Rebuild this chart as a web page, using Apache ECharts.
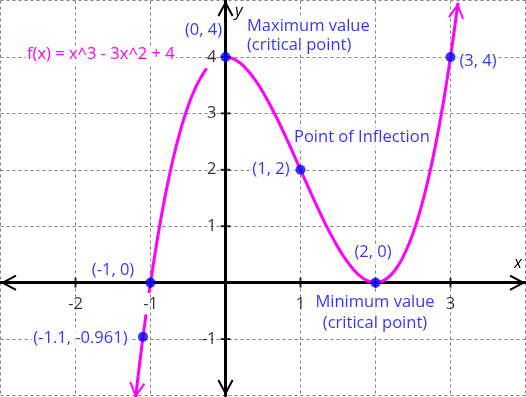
<!DOCTYPE html>
<html><head><meta charset="utf-8">
<script src="https://cdn.jsdelivr.net/npm/echarts@6/dist/echarts.min.js"></script>
<style>html,body{margin:0;padding:0;background:#fff}#c{width:526px;height:397px}</style>
</head><body><div id="c"></div>
<script>
// ---- data ----
const xTicks = [-2, -1, 1, 2, 3];
const yTicks = [-1, 1, 2, 3, 4];
const xTickLabels = [-2, -1, 1, 3];
const yTickLabels = [-1, 1, 2, 3, 4];

// sampled points of the plotted curve (null = gap where the picture shows none)
const curveX = [-1.2, -1.15, -1.1, -1.06, null,
  -1.02, -1.0, -0.9, -0.8, -0.7, -0.6, -0.5, -0.4, -0.3, -0.25, null,
  0, 0.1, 0.2, 0.3, 0.4, 0.5, 0.6, 0.7, 0.8, 0.9, 1.0, 1.1, 1.2, 1.3, 1.4, 1.5, 1.6, 1.7, 1.8, 1.9,
  2.0, 2.1, 2.2, 2.3, 2.4, 2.5, 2.6, 2.7, 2.8, 2.9, 3.0, 3.1];
const curveY = [-2.048, -1.488, -0.961, -0.562, null,
  -0.182, 0, 0.841, 1.568, 2.187, 2.704, 3.125, 3.456, 3.703, 3.797, null,
  4, 3.971, 3.888, 3.757, 3.584, 3.375, 3.136, 2.873, 2.592, 2.299, 2, 1.701, 1.408, 1.127, 0.864, 0.625, 0.416, 0.243, 0.112, 0.029,
  0, 0.031, 0.128, 0.297, 0.544, 0.875, 1.296, 1.813, 2.432, 3.159, 4, 4.961];

const pointX = [0, 1, 2, 3, -1, -1.1];
const pointY = [4, 2, 0, 4, 0, -0.961];
const pointLabels = ['(0, 4)', '(1, 2)', '(2, 0)', '(3, 4)', '(-1, 0)', '(-1.1, -0.961)'];

const noteX = [0, 1, 2];
const noteY = [4, 2, 0];
const noteLabels = ['Maximum value\n(critical point)', 'Point of Inflection', 'Minimum value\n(critical point)'];

const functionLabel = 'f(x) = x^3 - 3x^2 + 4';
const xName = 'x', yName = 'y';

// ---- styling ----
const FONT = "'Open Sans', sans-serif";
const FS = 16.5;
const BLUE = '#0000ff', MAGENTA = '#ff00ff';
const CHEVRON = 'path://M0,-16L0.01,-16L0,-15.99Z M0,0L8,15L6.24,15.94L0,4.26L-6.24,15.94L-8,15Z';

const pointLabelStyle = [
  {position: [-17, -22], align: 'center'},
  {position: [-4, 5], align: 'right'},
  {position: [2.5, -25], align: 'center'},
  {position: [12, 9.5], align: 'left'},
  {position: [-32.5, -7.7], align: 'center'},
  {position: [-8.5, 6], align: 'right'}
];
const noteLabelStyle = [
  {position: [20, -21], align: 'left', lineHeight: 19},
  {position: [-8, -32], align: 'left', lineHeight: 20},
  {position: [0, 31], align: 'center', lineHeight: 21}
];

const curveData = curveX.map((x, i) => {
  if (x == null) return ['-', '-'];
  const item = {value: [x, curveY[i]]};
  if (i === 0) { item.symbol = CHEVRON; item.symbolSize = [16, 32]; item.symbolRotate = 173.4; }
  if (i === curveX.length - 1) { item.symbol = CHEVRON; item.symbolSize = [16, 32]; item.symbolRotate = -7.4; }
  return item;
});

const splitLine = {show: true, lineStyle: {color: '#808080', width: 1, type: [3, 3]}};
const axisLineCfg = {onZero: true, lineStyle: {color: '#000', width: 3}, symbol: [CHEVRON, CHEVRON], symbolSize: [16, 32]};
const tickLabelText = {color: '#000', fontSize: FS, fontFamily: FONT, verticalAlign: 'middle'};

const chart = echarts.init(document.getElementById('c'), null, {renderer: 'canvas'});
chart.setOption({
  animation: false,
  backgroundColor: '#fff',
  grid: {left: 0.5, right: 0.5, top: 0.5, bottom: 1.5, containLabel: false, outerBoundsMode: 'none'},
  xAxis: {
    type: 'value', min: -3, max: 4, interval: 1,
    axisLine: axisLineCfg, axisTick: {show: false}, splitLine: splitLine,
    axisLabel: {show: false}
  },
  yAxis: {
    type: 'value', min: -2, max: 5, interval: 1,
    axisLine: axisLineCfg, axisTick: {show: false}, splitLine: splitLine,
    axisLabel: {show: false}
  },
  series: [
    {
      type: 'line', data: curveData, smooth: 0.3, connectNulls: false, clip: false,
      symbol: 'none', showSymbol: true, silent: true, z: 2,
      lineStyle: {color: MAGENTA, width: 3},
      itemStyle: {color: MAGENTA, borderWidth: 0}
    },
    {
      type: 'scatter', silent: true, z: 3, symbol: 'rect', symbolSize: [2, 10],
      itemStyle: {color: '#000'},
      data: xTicks.map(v => ({
        value: [v, 0],
        label: Object.assign({
          show: xTickLabels.indexOf(v) >= 0, formatter: String(v),
          position: [1, 27], align: 'center'
        }, tickLabelText)
      }))
    },
    {
      type: 'scatter', silent: true, z: 3, symbol: 'rect', symbolSize: [10, 2],
      itemStyle: {color: '#000'},
      data: yTicks.map(v => ({
        value: [0, v],
        label: Object.assign({
          show: yTickLabels.indexOf(v) >= 0, formatter: String(v),
          position: [-4, 1], align: 'right'
        }, tickLabelText)
      }))
    },
    {
      type: 'scatter', silent: true, z: 6, symbol: 'circle', symbolSize: 1,
      itemStyle: {color: 'rgba(0,0,0,0)'},
      data: noteX.map((x, i) => ({
        value: [x, noteY[i]],
        label: Object.assign({
          show: true, formatter: noteLabels[i], color: BLUE, fontSize: FS, fontFamily: FONT,
          verticalAlign: 'middle', backgroundColor: '#fff', padding: [0, 2]
        }, noteLabelStyle[i])
      }))
    },
    {
      type: 'scatter', silent: true, z: 7, symbol: 'circle', symbolSize: 10,
      itemStyle: {color: BLUE},
      data: pointX.map((x, i) => ({
        value: [x, pointY[i]],
        label: Object.assign({
          show: true, formatter: pointLabels[i], color: BLUE, fontSize: FS, fontFamily: FONT,
          verticalAlign: 'middle', backgroundColor: '#fff', padding: [0, 2]
        }, pointLabelStyle[i])
      }))
    }
  ],
  graphic: [
    {type: 'text', left: 26, top: 46, z: 10,
      style: {text: functionLabel, fill: MAGENTA, font: FS + 'px ' + FONT, backgroundColor: '#fff', padding: [0, 1]}},
    {type: 'text', left: 514, top: 255, z: 10,
      style: {text: xName, fill: '#000', font: 'italic ' + FS + 'px ' + FONT}},
    {type: 'text', left: 235, top: 3, z: 10,
      style: {text: yName, fill: '#000', font: 'italic ' + FS + 'px ' + FONT}}
  ]
});
</script>
</body></html>
